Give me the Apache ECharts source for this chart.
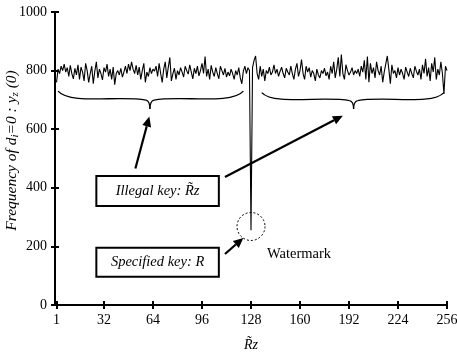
<!DOCTYPE html>
<html>
<head>
<meta charset="utf-8">
<script src="https://cdn.jsdelivr.net/npm/echarts@6/dist/echarts.min.js"></script>
<style>
  html, body { margin: 0; padding: 0; background: #fff; }
  #chart { width: 457px; height: 355px; }
</style>
</head>
<body>
<div id="chart"></div>
<script>
// tick labels
const xTicks = [1, 32, 64, 96, 128, 160, 192, 224, 256];
const yTicks = [0, 200, 400, 600, 800, 1000];

// frequency for each key index 1..256
const freq = [
  760, 805, 790, 815, 800, 822, 795, 810, 780, 818, 790, 772, 808, 785, 820, 770,
  812, 795, 765, 825, 800, 760, 790, 815, 755, 798, 830, 775, 805, 790, 768, 810,
  795, 822, 780, 805, 770, 812, 752, 790, 800, 785, 808, 778, 795, 815, 790, 822,
  800, 830, 805, 790, 818, 785, 812, 770, 800, 825, 760, 795, 780, 810, 790, 805,
  798, 815, 780, 825, 790, 760, 805, 830, 775, 812, 845, 765, 790, 808, 770, 800,
  785, 810, 795, 778, 815, 800, 788, 820, 795, 772, 808, 790, 815, 782, 800, 825,
  790, 848, 780, 805, 770, 818, 795, 780, 810, 790, 772, 815, 800, 785, 808, 778,
  795, 782, 805, 790, 770, 800, 785, 810, 775, 755, 798, 815, 790, 810, 800, 255,
  810, 835, 850, 790, 770, 815, 780, 805, 765, 800, 790, 812, 785, 795, 820, 790,
  805, 780, 798, 812, 790, 775, 808, 795, 785, 815, 790, 770, 805, 825, 780, 800,
  838, 790, 770, 815, 795, 810, 778, 800, 790, 765, 805, 785, 775, 800, 790, 808,
  782, 795, 770, 815, 790, 830, 775, 805, 845, 780, 855, 790, 770, 820, 800, 785,
  795, 810, 785, 800, 790, 805, 780, 815, 795, 835, 770, 848, 760, 825, 790, 810,
  775, 830, 800, 785, 815, 760, 795, 790, 850, 805, 755, 820, 790, 800, 775, 810,
  785, 805, 790, 770, 812, 795, 780, 808, 790, 775, 815, 798, 785, 805, 770, 820,
  790, 840, 780, 810, 765, 825, 795, 845, 770, 805, 785, 830, 790, 720, 815, 800
];

// annotation anchors in data units
const braces = [
  { from: 2, to: 123, tip: 62, end: 730, body: 696, point: 669 },
  { from: 135, to: 254, tip: 195, end: 725, body: 694, point: 669 }
];
const arrows = [
  { from: [52.5, 466], to: [61.6, 643] },
  { from: [111, 437], to: [188, 646] },
  { from: [111, 174], to: [123, 229] }
];
const boxes = [
  { x0: 27, x1: 107, y0: 440, y1: 338, label: 'Illegal key: R\u0303z' },
  { x0: 27, x1: 107, y0: 195, y1: 96, label: 'Specified key: R' }
];
const circle = { x: 128, y: 268, r: 14 };
const note = { x: 138.5, y: 172, label: 'Watermark' };

const font = 'Liberation Serif';
const chart = echarts.init(document.getElementById('chart'));

const axisCommon = {
  axisLine: { lineStyle: { color: '#000', width: 2 } },
  axisTick: { inside: true, length: 4, lineStyle: { color: '#000', width: 2 } },
  splitLine: { show: false }
};

chart.setOption({
  animation: false,
  backgroundColor: '#fff',
  grid: { left: 55, right: 10, top: 12, bottom: 50, outerBoundsMode: 'none', containLabel: false },
  xAxis: [
    {
      type: 'value', min: 0, max: 256, position: 'bottom',
      ...axisCommon,
      axisTick: { ...axisCommon.axisTick, customValues: xTicks },
      axisLabel: { customValues: xTicks, color: '#000', fontFamily: font, fontSize: 14, margin: 8, formatter: v => String(v) },
      name: 'R\u0303z', nameLocation: 'middle', nameGap: 33, nameMoveOverlap: false,
      nameTextStyle: { fontFamily: font, fontStyle: 'italic', fontSize: 14, color: '#000' }
    },
    {
      type: 'value', min: 0, max: 256, position: 'top',
      ...axisCommon,
      axisTick: { ...axisCommon.axisTick, customValues: xTicks },
      axisLabel: { show: false }
    }
  ],
  yAxis: [
    {
      type: 'value', min: 0, max: 1000, interval: 200, position: 'left',
      ...axisCommon,
      axisLabel: { color: '#000', fontFamily: font, fontSize: 14, margin: 8, formatter: v => String(v) },
      name: '{t|Frequency of d}{s|i}{t|=0 : y}{s|z}{t| (0)}',
      nameLocation: 'middle', nameGap: 34, nameRotate: 90, nameMoveOverlap: false,
      nameTextStyle: {
        padding: [0, 0, 0, 16],
        rich: {
          t: { fontFamily: font, fontStyle: 'italic', fontSize: 15.5, color: '#000' },
          s: { fontFamily: font, fontStyle: 'italic', fontSize: 11, color: '#000', verticalAlign: 'bottom', padding: [7, 0, 0, 0] }
        }
      }
    },
    {
      type: 'value', min: 0, max: 1000, interval: 200, position: 'right',
      ...axisCommon,
      axisLabel: { show: false }
    }
  ],
  series: [
    {
      type: 'line',
      data: freq.map((v, i) => [i + 1, v]),
      symbol: 'none',
      lineStyle: { color: '#000', width: 1.1 }
    }
  ]
});

function px(x, y) {
  return chart.convertToPixel({ xAxisIndex: 0, yAxisIndex: 0 }, [x, y]);
}

const graphics = [];
const braceStyle = { fill: null, stroke: '#000', lineWidth: 1.3 };

braces.forEach(b => {
  const [x0, ye] = px(b.from, b.end);
  const [x1] = px(b.to, b.end);
  const [xm, yb] = px(b.tip, b.body);
  const yt = px(b.tip, b.point)[1];
  const parts = [
    { x1: x0, y1: ye, cpx1: x0 + 12, cpy1: yb + 4, cpx2: xm - 30, cpy2: yb - 6, x2: xm - 4, y2: yb - 1 },
    { x1: xm - 4, y1: yb - 1, cpx1: xm, cpy1: yb, x2: xm, y2: yt },
    { x1: xm, y1: yt, cpx1: xm, cpy1: yb, x2: xm + 4, y2: yb - 1 },
    { x1: xm + 4, y1: yb - 1, cpx1: xm + 30, cpy1: yb - 6, cpx2: x1 - 12, cpy2: yb + 4, x2: x1, y2: ye }
  ];
  parts.forEach(shape => graphics.push({ type: 'bezierCurve', shape, style: braceStyle, silent: true }));
});

arrows.forEach(a => {
  const [sx, sy] = px(a.from[0], a.from[1]);
  const [ex, ey] = px(a.to[0], a.to[1]);
  const ang = Math.atan2(ey - sy, ex - sx);
  const hl = 10, hw = 4.5;
  const bx = ex - hl * Math.cos(ang), by = ey - hl * Math.sin(ang);
  graphics.push({ type: 'line', shape: { x1: sx, y1: sy, x2: bx, y2: by }, style: { stroke: '#000', lineWidth: 2.2 }, silent: true });
  graphics.push({
    type: 'polygon',
    shape: { points: [[ex, ey], [bx - hw * Math.sin(ang), by + hw * Math.cos(ang)], [bx + hw * Math.sin(ang), by - hw * Math.cos(ang)]] },
    style: { fill: '#000' }, silent: true
  });
});

boxes.forEach(b => {
  const [x0, y0] = px(b.x0, b.y0);
  const [x1, y1] = px(b.x1, b.y1);
  graphics.push({ type: 'rect', shape: { x: x0, y: y0, width: x1 - x0, height: y1 - y0 }, style: { fill: '#fff', stroke: '#000', lineWidth: 2 }, silent: true });
  graphics.push({
    type: 'text', x: (x0 + x1) / 2, y: (y0 + y1) / 2,
    style: { text: b.label, fontFamily: font, fontStyle: 'italic', fontSize: 14.5, fill: '#000', align: 'center', verticalAlign: 'middle' },
    silent: true
  });
});

{
  const [cx, cy] = px(circle.x, circle.y);
  const r = circle.r;
  graphics.push({ type: 'circle', shape: { cx, cy, r }, style: { fill: null, stroke: '#000', lineWidth: 1, lineDash: [2, 2] }, silent: true });
  const [nx, ny] = px(note.x, note.y);
  graphics.push({ type: 'text', x: nx, y: ny, style: { text: note.label, fontFamily: font, fontSize: 14.5, fill: '#000', align: 'left', verticalAlign: 'middle' }, silent: true });
}

chart.setOption({ graphic: graphics });
</script>
</body>
</html>
